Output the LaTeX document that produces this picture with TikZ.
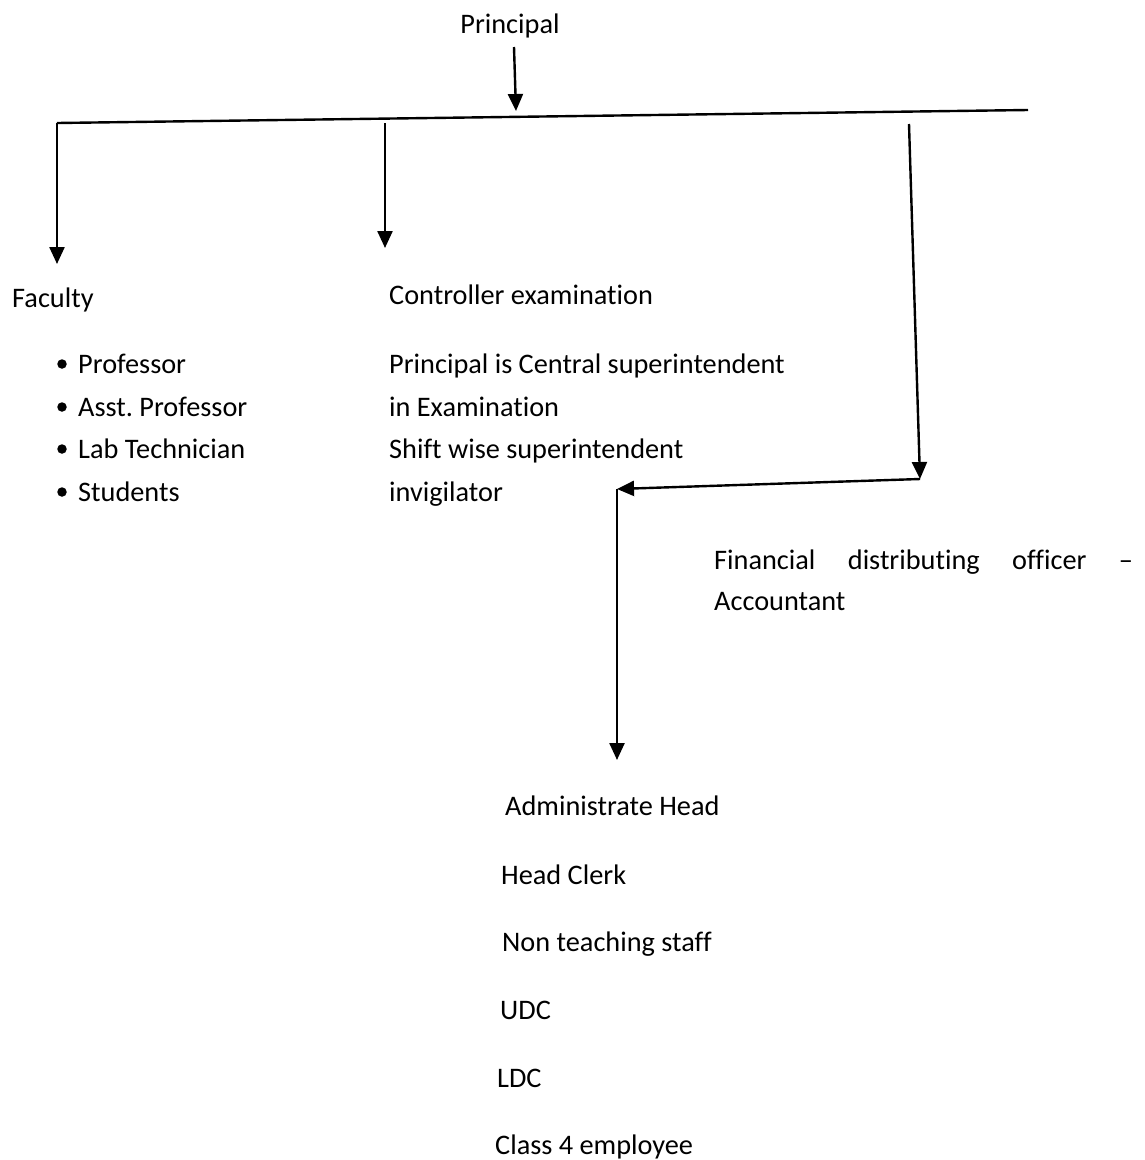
\documentclass[tikz,border=0pt]{standalone}
\usepackage{fontspec}
\setmainfont[Ligatures={NoCommon}]{Carlito}
\usetikzlibrary{arrows.meta}
\frenchspacing
\begin{document}
\begin{tikzpicture}[x=1pt,y=-1pt,
  txt/.style={anchor=base west,inner sep=0pt,font=\fontsize{28.3}{34}\selectfont},
  conn/.style={line width=2.4pt},
  arr/.style={conn,-{Triangle[length=17pt,width=15pt]}},
  bul/.style={circle,fill=black,inner sep=0pt,minimum size=9.5pt}]
\path[use as bounding box] (0,0) rectangle (1144,1160);
% title
\node[txt,anchor=base] (principal) at (510,33) {Principal};
% bracket
\coordinate (hl) at (57,123);
\coordinate (hr) at (1028,110);
\coordinate (ptop) at (514,47);
\coordinate (ptip) at (516,111);
\draw[conn] (hl) -- (hr);
\draw[arr] (ptop) -- (ptip);
% faculty
\node[txt] (faculty) at (12,307) {Faculty};
\coordinate (ftip) at (57,264);
\draw[arr] (hl) -- (ftip);
\foreach \y/\t/\n in {373/Professor/p1,416/Asst. Professor/p2,458/Lab Technician/p3,501/Students/p4}{
  \node[bul] (b\n) at (62,\y-9) {};
  \node[txt] (\n) at (78,\y) {\t};
}
% controller
\node[txt] (ctrl) at (389,304) {Controller examination};
\coordinate (ctop) at (385,123);
\coordinate (ctip) at (385,248);
\draw[arr] (ctop) -- (ctip);
\node[txt] (c1) at (389,373) {Principal is Central superintendent};
\node[txt] (c2) at (389,416) {in Examination};
\node[txt] (c3) at (389,458) {Shift wise superintendent};
\node[txt] (c4) at (389,501) {invigilator};
% finance
\node[txt] (fin1) at (714,569) {\makebox[419pt][s]{Financial distributing officer \textendash}};
\node[txt] (fin2) at (714,610) {Accountant};
\coordinate (rtop) at (909,124);
\coordinate (rbot) at (920,479);
\coordinate (corner) at (617,489);
\coordinate (dtip) at (617,760);
\draw[arr] (rtop) -- (rbot);
\draw[arr] (rbot) -- (corner);
\draw[arr] (corner) -- (dtip);
% admin
\node[txt] (a1) at (505,815) {Administrate Head};
\node[txt] (a2) at (501,884) {Head Clerk};
\node[txt] (a3) at (502,951) {Non teaching staff};
\node[txt] (a4) at (500,1019) {UDC};
\node[txt] (a5) at (497,1087) {LDC};
\node[txt] (a6) at (495,1154) {Class 4 employee};
\end{tikzpicture}
\end{document}
